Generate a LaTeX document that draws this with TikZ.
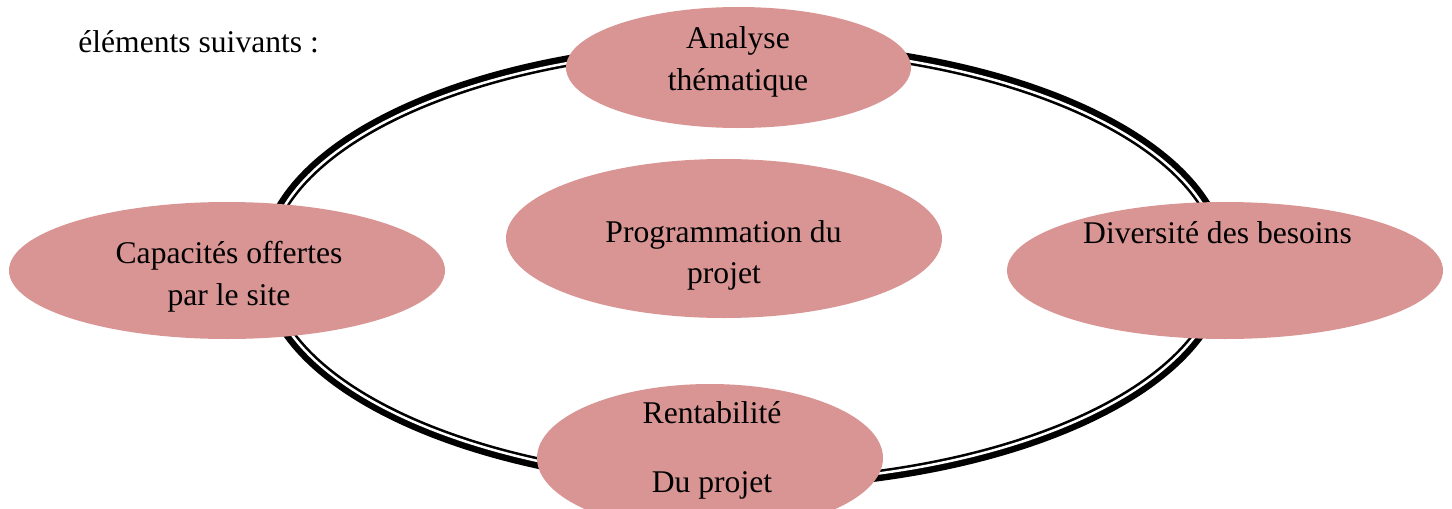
\documentclass[tikz,border=0pt]{standalone}
\usepackage{fontspec}
\setmainfont{Liberation Serif}
\usetikzlibrary{shapes.geometric}
\definecolor{bubble}{HTML}{D99594}
\tikzset{
  bub/.style={ellipse, fill=bubble, draw=none, inner sep=0pt, outer sep=0pt},
  lbl/.style={anchor=base, inner sep=0pt, font=\fontsize{15.8pt}{19pt}\selectfont, text=black},
}
\begin{document}
\begin{tikzpicture}[x=0.5pt, y=-0.5pt]
\useasboundingbox (0,0) rectangle (1452,509);
% ring (thick-thin double line)
\draw[black, line width=5.75pt] (744,265) ellipse [x radius=239.625pt, y radius=109.625pt];
\draw[white, line width=1.25pt] (744,265) ellipse [x radius=238.625pt, y radius=108.625pt];
% ellipses
\node[bub, minimum width=172.5pt, minimum height=60.5pt] (top) at (738.5,67.5) {};
\node[bub, minimum width=218pt, minimum height=79.5pt] (mid) at (724,238.5) {};
\node[bub, minimum width=218pt, minimum height=68.5pt] (left) at (227,270.5) {};
\node[bub, minimum width=218pt, minimum height=68.5pt] (right) at (1225,270.5) {};
\node[bub, minimum width=173pt, minimum height=74pt] (bot) at (710,458) {};
% labels
\node[lbl, anchor=base west] (intro) at (78,52) {éléments suivants :};
\node[lbl] (t1) at (738,48) {Analyse};
\node[lbl] (t2) at (738,90) {thématique};
\node[lbl] (l1) at (229,263) {Capacités offertes};
\node[lbl] (l2) at (229,305) {par le site};
\node[lbl] (r1) at (1217.5,243) {Diversité des besoins};
\node[lbl] (m1) at (723.5,242) {Programmation du};
\node[lbl] (m2) at (724,283) {projet};
\node[lbl] (b1) at (712,423) {Rentabilité};
\node[lbl] (b2) at (712,492) {Du projet};
\end{tikzpicture}
\end{document}
